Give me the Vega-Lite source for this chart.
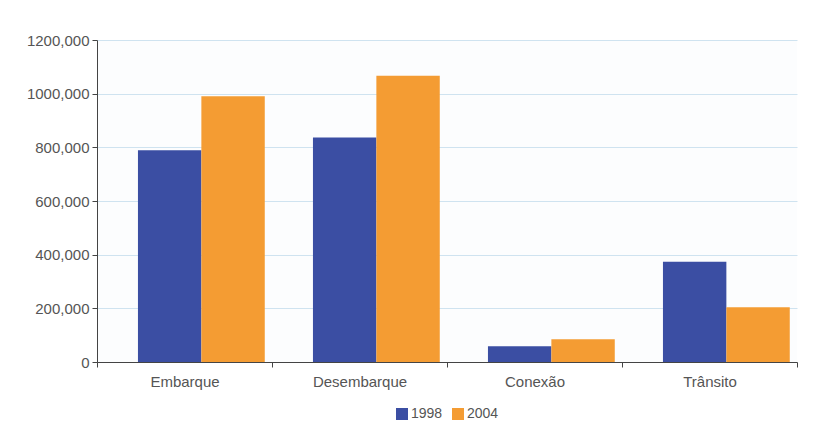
{
  "$schema": "https://vega.github.io/schema/vega-lite/v6.json",
  "width": 700,
  "height": 322,
  "autosize": {"type": "none"},
  "padding": {"left": 97, "top": 40, "right": 33, "bottom": 61},
  "background": "#ffffff",
  "data": {
    "values": [
      {"categoria": "Embarque", "ano": "1998", "valor": 789000},
      {"categoria": "Embarque", "ano": "2004", "valor": 990000},
      {"categoria": "Desembarque", "ano": "1998", "valor": 837000},
      {"categoria": "Desembarque", "ano": "2004", "valor": 1067000},
      {"categoria": "Conexão", "ano": "1998", "valor": 59000},
      {"categoria": "Conexão", "ano": "2004", "valor": 85000},
      {"categoria": "Trânsito", "ano": "1998", "valor": 374000},
      {"categoria": "Trânsito", "ano": "2004", "valor": 204000}
    ]
  },
  "mark": {"type": "bar"},
  "encoding": {
    "x": {
      "field": "categoria",
      "type": "nominal",
      "sort": ["Embarque", "Desembarque", "Conexão", "Trânsito"],
      "scale": {"paddingInner": 0, "paddingOuter": 0},
      "axis": {
        "title": null,
        "labelAngle": 0,
        "tickBand": "extent",
        "labelFont": "Liberation Sans",
        "labelFontSize": 15,
        "labelColor": "#555555",
        "domainColor": "#444444",
        "tickColor": "#444444",
        "tickSize": 5,
        "labelPadding": 7
      }
    },
    "xOffset": {
      "field": "ano",
      "type": "nominal",
      "scale": {"paddingInner": 0, "paddingOuter": 0.38, "align": 0.85}
    },
    "y": {
      "field": "valor",
      "type": "quantitative",
      "scale": {"domain": [0, 1200000]},
      "axis": {
        "title": null,
        "values": [0, 200000, 400000, 600000, 800000, 1000000, 1200000],
        "labelExpr": "datum.value == 0 ? '0' : format(datum.value / 1000, 'd') + ',000'",
        "labelFont": "Liberation Sans",
        "labelFontSize": 15,
        "labelColor": "#555555",
        "domainColor": "#444444",
        "tickColor": "#444444",
        "tickSize": 5,
        "labelPadding": 3,
        "gridColor": "#cfe3f0",
        "gridWidth": 1
      }
    },
    "color": {
      "field": "ano",
      "type": "nominal",
      "scale": {"domain": ["1998", "2004"], "range": ["#3b4ea3", "#f49c33"]},
      "legend": {
        "title": null,
        "orient": "bottom",
        "direction": "horizontal",
        "symbolType": "square",
        "symbolSize": 144,
        "symbolStrokeWidth": 0,
        "labelFont": "Liberation Sans",
        "labelFontSize": 14,
        "labelColor": "#555555",
        "columnPadding": 8,
        "labelOffset": 2
      }
    }
  },
  "config": {
    "view": {"stroke": null, "fill": "#fcfdfe"},
    "legend": {"layout": {"bottom": {"anchor": "middle"}}}
  }
}
